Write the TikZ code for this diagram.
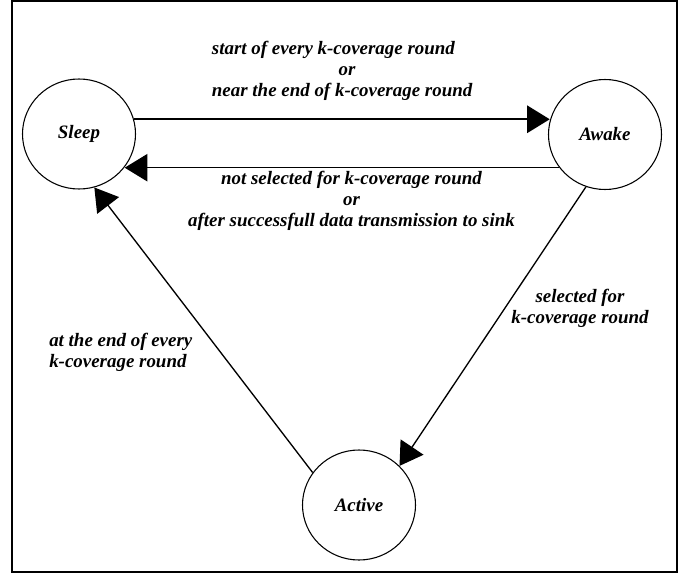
\documentclass[tikz,border=0pt]{standalone}
\usepackage{fontspec}
\setmainfont{Liberation Serif}
\usetikzlibrary{arrows.meta,shapes.geometric}
\begin{document}
\begin{tikzpicture}[x=0.75pt,y=-0.75pt,
  state/.style={ellipse,draw,line width=0.8pt,minimum width=84.75pt,minimum height=82.5pt,inner sep=0pt,
    font=\fontsize{14.2}{17}\selectfont\bfseries\itshape},
  lbl/.style={inner sep=0pt,font=\fontsize{14.2}{15.75}\selectfont\bfseries\itshape},
  arr/.style={-{Triangle[length=17pt,width=20.5pt]},line width=1pt},
  framebox/.style={draw,line width=1.5pt,inner sep=0pt,minimum width=498.75pt,minimum height=427.5pt}]
\useasboundingbox (0,0) rectangle (689,574);
\node[framebox] (frame) at (344.5,286.5) {};
\node[state] (sleep) at (79,134) {Sleep};
\node[state] (awake) at (605,134.5) {Awake};
\node[state] (active) at (359,505) {Active};
\draw[arr,line width=1.6pt] (sleep.15) -- (sleep.15 -| awake.166);
\draw[arr] (awake.-144) -- (awake.-144 -| sleep.-36);
\draw[arr] (awake.-110) -- (active.44);
\draw[arr] (active.145) -- (sleep.-74);
\node[lbl,align=left,anchor=west] (l1) at (211.7,71) {start of every k-coverage round\\\hspace*{95pt}or\\near the end of k-coverage round};
\node[lbl,align=center] (l2) at (351.5,201) {not selected for k-coverage round\\or\\after successfull data transmission to sink};
\node[lbl,align=center] (l3) at (580,308) {selected for\\k-coverage round};
\node[lbl,align=left,anchor=west] (l4) at (49,352) {at the end of every\\k-coverage round};
\end{tikzpicture}
\end{document}
